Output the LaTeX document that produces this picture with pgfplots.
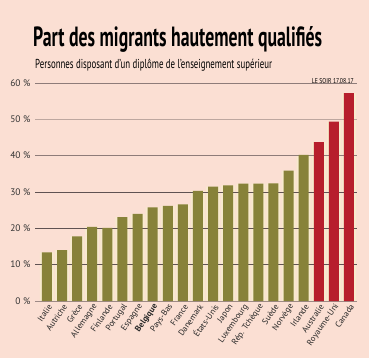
\documentclass[border=0pt]{standalone}
\usepackage{fontspec}
\setmainfont{PT Sans}
\usepackage{pgfplots}
\pgfplotsset{compat=1.18}
\definecolor{bg}{RGB}{251,223,211}
\definecolor{cream}{RGB}{248,234,206}
\definecolor{olive}{RGB}{135,130,57}
\definecolor{rouge}{RGB}{183,30,44}
\definecolor{gridc}{RGB}{95,82,82}
\begin{document}
\begin{tikzpicture}[x=1bp,y=1bp]
\fill[bg] (0,0) rectangle (369,358);
\node[anchor=north west, inner sep=0] at (33,332) {\resizebox{289bp}{20bp}{\bfseries Part des migrants hautement qualifiés}};
\node[anchor=north west, inner sep=0] at (35,299) {\resizebox{237bp}{9.5bp}{Personnes disposant d'un diplôme de l'enseignement supérieur}};
\node[anchor=north east, inner sep=0] at (354,280) {\resizebox{42bp}{5bp}{LE SOIR 17.08.17}};
\begin{axis}[
  at={(35bp,57bp)}, anchor=south west,
  scale only axis, width=322bp, height=218bp,
  ymin=0, ymax=60, xmin=-0.79, xmax=20.53,
  ytick={0,10,20,30,40,50,60},
  yticklabels={0 \%,10 \%,20 \%,30 \%,40 \%,50 \%,60 \%},
  xtick={0,...,20},
  xticklabels={Italie,Autriche,Grèce,Allemagne,Finlande,Portugal,Espagne,{\bfseries Belgique},Pays-Bas,France,Danemark,États-Unis,Japon,Luxembourg,Rép. Tchèque,Suède,Norvège,Irlande,Australie,Royaume-Uni,Canada},
  axis line style={draw=none},
  major tick length=0pt,
  yticklabel style={font=\fontsize{9.5}{10}\selectfont, text=black!80, xshift=-1bp},
  xticklabel style={font=\fontsize{8.5}{9}\selectfont, text=black!85, rotate=55, anchor=east, xshift=2bp, yshift=-5bp},
]
\addplot[ybar, bar width=14bp, bar shift=0pt, fill=cream, draw=none] coordinates {
(0,13.4) (1,14.0) (2,17.8) (3,20.4) (4,20.1) (5,23.1) (6,24.0) (7,25.8) (8,26.2) (9,26.6) (10,30.3) (11,31.5) (12,31.8) (13,32.3) (14,32.3) (15,32.4) (16,35.9) (17,40.2) (18,43.7) (19,49.4) (20,57.2)};
\addplot[gridc!60!bg, line width=0.6bp, no marks] coordinates {(-0.79,0) (20.53,0)};
\addplot[gridc, line width=0.6bp, no marks] coordinates {(-0.79,10) (20.53,10)};
\addplot[gridc, line width=0.6bp, no marks] coordinates {(-0.79,20) (20.53,20)};
\addplot[gridc, line width=0.6bp, no marks] coordinates {(-0.79,30) (20.53,30)};
\addplot[gridc!70!bg, line width=0.6bp, no marks] coordinates {(-0.79,40) (20.53,40)};
\addplot[gridc!40!bg, line width=0.6bp, no marks] coordinates {(-0.79,50) (20.53,50)};
\addplot[gridc!70!bg, line width=0.6bp, no marks] coordinates {(-0.79,60) (20.53,60)};
\addplot[ybar, bar width=10bp, bar shift=0pt, fill=olive, draw=none] coordinates {
(0,13.4) (1,14.0) (2,17.8) (3,20.4) (4,20.1) (5,23.1) (6,24.0) (7,25.8) (8,26.2) (9,26.6) (10,30.3) (11,31.5) (12,31.8) (13,32.3) (14,32.3) (15,32.4) (16,35.9) (17,40.2)};
\addplot[ybar, bar width=10bp, bar shift=0pt, fill=rouge, draw=none] coordinates {
(18,43.7) (19,49.4) (20,57.2)};
\end{axis}
\end{tikzpicture}
\end{document}
